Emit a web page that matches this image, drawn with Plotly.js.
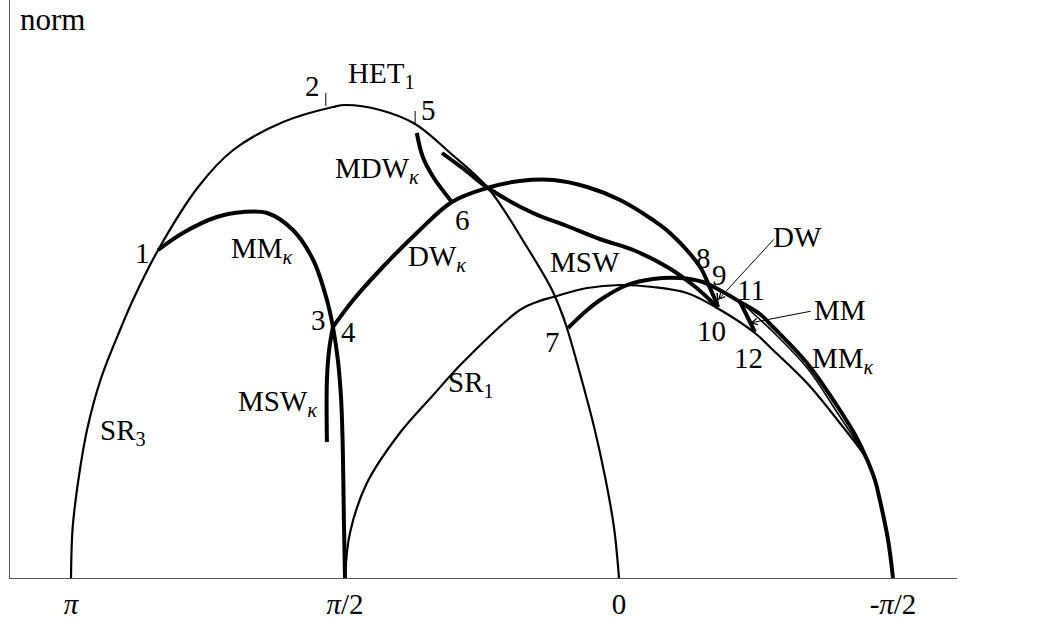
<!DOCTYPE html>
<html>
<head>
<meta charset="utf-8">
<script src="https://cdn.plot.ly/plotly-3.0.1.min.js"></script>
<style>html,body{margin:0;padding:0;background:#fff;}#chart{width:1052px;height:620px;}</style>
</head>
<body>
<div id="chart"></div>
<script>
// polar angle in units of pi (1 = pi), norm in arbitrary units
const tickVals = [1, 0.5, 0, -0.5];
const tickText = ['<i>π</i>', '<i>π</i>/2', '0', '-<i>π</i>/2'];

// SR3 / HET1 arch (pi -> 0)
const archX = [1.000,0.997,0.986,0.970,0.945,0.909,0.887,0.841,0.768,0.704,0.613,0.522,0.500,0.436,0.372,0.308,0.239,0.168,0.124,0.108,0.095,0.069,0.045,0.025,0.009,0.000];
const archY = [0.00,0.50,1.00,1.50,2.00,2.50,2.78,3.28,3.91,4.28,4.56,4.71,4.73,4.68,4.54,4.25,3.90,3.31,2.90,2.70,2.50,2.00,1.50,1.00,0.50,0.00];

// SR1 arch (pi/2 -> -pi/2)
const sr1X = [0.500,0.491,0.460,0.400,0.339,0.286,0.181,0.150,0.120,0.058,-0.002,-0.062,-0.124,-0.179,-0.248,-0.281,-0.343,-0.403,-0.453,-0.467,-0.476,-0.491,-0.500];
const sr1Y = [0.00,0.45,0.95,1.45,1.83,2.15,2.68,2.76,2.81,2.90,2.93,2.91,2.85,2.70,2.45,2.28,1.95,1.55,1.18,0.98,0.78,0.38,0.00];

// MM_kappa (left): point 1 -> 3 -> pi/2
const mmkLX = [0.841,0.796,0.734,0.686,0.642,0.595,0.558,0.533,0.522,0.513,0.507,0.504,0.502,0.500];
const mmkLY = [3.28,3.45,3.61,3.66,3.65,3.48,3.18,2.78,2.51,2.18,1.78,1.28,0.58,0.00];

// MSW_kappa: point 3 downward
const mswkX = [0.522,0.529,0.533,0.533];
const mswkY = [2.51,2.28,1.98,1.36];

// DW_kappa: point 4 -> 6 -> 8 -> 10
const dwkX = [0.522,0.485,0.431,0.369,0.305,0.241,0.181,0.120,0.058,-0.002,-0.062,-0.093,-0.148,-0.166,-0.181];
const dwkY = [2.51,2.78,3.11,3.45,3.76,3.90,3.97,3.98,3.91,3.78,3.58,3.45,3.11,2.90,2.71];

// MDW_kappa: point 5 -> 6
const mdwkX = [0.369,0.358,0.339,0.305];
const mdwkY = [4.45,4.21,4.01,3.76];

// MSW: near 5 -> 10
const mswX = [0.323,0.281,0.239,0.157,0.095,0.035,-0.026,-0.088,-0.135,-0.166,-0.179];
const mswY = [4.25,4.08,3.90,3.65,3.52,3.39,3.28,3.11,2.93,2.78,2.71];

// MM_kappa (right): point 7 -> 11 -> -pi/2
const mmkRX = [0.093,0.058,0.029,-0.015,-0.062,-0.111,-0.153,-0.190,-0.221,-0.257,-0.281,-0.343,-0.403,-0.431,-0.453,-0.467,-0.476,-0.491,-0.500];
const mmkRY = [2.50,2.68,2.80,2.93,2.99,3.00,2.96,2.86,2.76,2.64,2.51,2.15,1.68,1.43,1.18,0.98,0.78,0.38,0.00];

// thin companion of the outer branch
const outerThinX = [-0.230,-0.285,-0.345,-0.400,-0.440];
const outerThinY = [2.72,2.44,2.09,1.64,1.31];

// MM: point 11 -> 12
const mmX = [-0.221,-0.248];
const mmY = [2.76,2.46];

// DW: point 9 -> 10
const dwX = [-0.179,-0.181];
const dwY = [2.85,2.72];

// small marks at points 2 and 5
const tick2X = [0.535,0.535], tick2Y = [4.72,4.85];
const tick5X = [0.372,0.372], tick5Y = [4.53,4.67];

const THIN = 2.2, THICK = 4;
function tr(x, y, w, shape) {
  return {x: x, y: y, type: 'scatter', mode: 'lines', hoverinfo: 'skip', showlegend: false,
          line: {color: '#000', width: w, shape: shape || 'spline', smoothing: 1}};
}
const data = [
  tr(archX, archY, THIN),
  tr(sr1X, sr1Y, THIN),
  tr(outerThinX, outerThinY, 1.6),
  tr(mmkLX, mmkLY, THICK),
  tr(mswkX, mswkY, THICK),
  tr(dwkX, dwkY, THICK),
  tr(mdwkX, mdwkY, THICK),
  tr(mswX, mswY, THICK),
  tr(mmkRX, mmkRY, THICK),
  tr(mmX, mmY, THICK, 'linear'),
  tr(dwX, dwY, 1.5, 'linear'),
  tr(tick2X, tick2Y, 1, 'linear'),
  tr(tick5X, tick5Y, 1, 'linear')
];

// pixel -> axis helpers for label placement only
function X(px) { return (619 - px) / 548; }
function Y(py) { return (578 - py) / 100; }
const FONT = '"Liberation Serif", "Times New Roman", serif';
function lab(text, px, py, anchor, size) {
  return {text: text, x: X(px), y: Y(py), xref: 'x', yref: 'y', showarrow: false,
          xanchor: anchor || 'center', yanchor: 'middle',
          font: {family: FONT, size: size || 29, color: '#000'}};
}
const K = '<sub><i>κ</i></sub>';
const annotations = [
  lab('norm', 18, 19, 'left', 31),
  lab('HET<sub>1</sub>', 381, 75),
  lab('2', 312, 86),
  lab('5', 428, 110),
  lab('MDW' + K, 377, 170),
  lab('6', 462, 220),
  lab('1', 142, 253),
  lab('MM' + K, 262, 250),
  lab('DW' + K, 437, 258),
  lab('MSW', 585, 262),
  lab('8', 703, 258),
  lab('9', 719, 275),
  lab('DW', 797, 237),
  lab('11', 751, 290),
  lab('MM', 840, 310),
  lab('10', 711, 331),
  lab('12', 748, 358),
  lab('MM' + K, 843, 360),
  lab('7', 552, 342),
  lab('3', 318, 320),
  lab('4', 348, 332),
  lab('MSW' + K, 277, 403),
  lab('SR<sub>3</sub>', 123, 432),
  lab('SR<sub>1</sub>', 471, 384),
  lab('polar', 970, 563, 'left', 31),
  lab('angle', 970, 598, 'left', 31),
  {x: X(718), y: Y(300), ax: X(775), ay: Y(238), xref: 'x', yref: 'y', axref: 'x', ayref: 'y',
   text: '', showarrow: true, arrowhead: 5, arrowsize: 1.2, arrowwidth: 1, arrowcolor: '#000'},
  {x: X(750), y: Y(323), ax: X(812), ay: Y(311), xref: 'x', yref: 'y', axref: 'x', ayref: 'y',
   text: '', showarrow: true, arrowhead: 5, arrowsize: 1.2, arrowwidth: 1, arrowcolor: '#000'}
];

const layout = {
  width: 1052, height: 620,
  margin: {l: 10, r: 95, t: 0, b: 42},
  paper_bgcolor: '#fff', plot_bgcolor: '#fff',
  font: {family: FONT, size: 29, color: '#000'},
  showlegend: false,
  xaxis: {range: [X(10), X(957)], showline: true, linecolor: '#555', linewidth: 1.3,
          showgrid: false, zeroline: false, ticks: '', tickvals: tickVals, ticktext: tickText,
          tickfont: {family: FONT, size: 29, color: '#000'}, fixedrange: true},
  yaxis: {range: [0, 5.78], showline: true, linecolor: '#555', linewidth: 1.3,
          showgrid: false, zeroline: false, ticks: '', showticklabels: false, fixedrange: true},
  annotations: annotations
};
Plotly.newPlot('chart', data, layout, {staticPlot: true, displayModeBar: false});
</script>
</body>
</html>
